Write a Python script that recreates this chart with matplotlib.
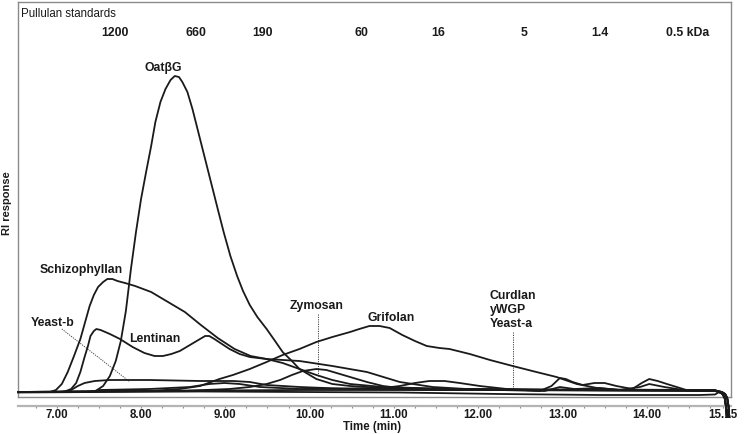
import numpy as np
import matplotlib
matplotlib.use("Agg")
import matplotlib.pyplot as plt
import matplotlib.transforms as mtransforms

# =========================
# DATA  (time in min, RI response in arbitrary units)
# =========================
oat_bg = [(6.54, 0), (7.33, 0), (7.46, 1), (7.55, 6), (7.63, 16), (7.70, 31), (7.76, 51),
          (7.82, 81), (7.88, 123), (7.94, 160), (8.00, 193), (8.06, 220), (8.12, 246),
          (8.17, 270), (8.23, 290), (8.29, 303), (8.35, 312), (8.40, 316), (8.45, 315),
          (8.49, 310), (8.55, 300), (8.61, 283), (8.67, 263), (8.73, 243), (8.79, 223),
          (8.85, 203), (8.91, 183), (8.98, 160), (9.06, 136), (9.14, 116), (9.21, 101),
          (9.29, 87), (9.38, 75), (9.49, 63), (9.59, 51), (9.68, 40), (9.79, 31), (9.88, 23),
          (10.08, 13), (10.27, 8), (10.48, 6), (11.07, 3), (12.26, 2), (13.44, 1.5), (14.81, 1)]

schizophyllan = [(6.54, 0), (6.92, 0), (6.99, 2), (7.06, 8), (7.13, 20), (7.20, 35), (7.28, 53),
                 (7.34, 71), (7.39, 86), (7.44, 97), (7.49, 105), (7.55, 110), (7.60, 113),
                 (7.66, 113), (7.72, 111), (7.81, 109), (7.93, 106), (8.12, 100), (8.32, 90),
                 (8.52, 80), (8.71, 67), (8.91, 54), (9.11, 43), (9.30, 36), (9.49, 33),
                 (9.68, 29), (9.88, 23), (10.08, 17), (10.27, 12), (10.48, 8), (10.87, 5),
                 (11.66, 3), (12.85, 2), (14.81, 1.5)]

lentinan = [(6.54, 0), (7.04, 0), (7.11, 1), (7.17, 3), (7.23, 9), (7.28, 20), (7.33, 35),
            (7.37, 46), (7.40, 56), (7.44, 61), (7.47, 63), (7.52, 62), (7.63, 58), (7.75, 53),
            (7.90, 45), (8.04, 39), (8.16, 36), (8.26, 36), (8.36, 38), (8.46, 41), (8.58, 47),
            (8.70, 53), (8.76, 56), (8.81, 56), (8.87, 53), (8.96, 48), (9.05, 43), (9.17, 38),
            (9.29, 35), (9.49, 33), (9.88, 31), (10.27, 26), (10.68, 20), (11.07, 10),
            (11.46, 5), (11.86, 3), (12.85, 2), (14.81, 1.5)]

grifolan = [(6.54, 0), (8.10, 1), (8.46, 3), (8.70, 6), (8.93, 13), (9.09, 17), (9.29, 23),
            (9.49, 30), (9.68, 37), (9.88, 43), (10.08, 50), (10.27, 55), (10.48, 60),
            (10.59, 63), (10.71, 66), (10.83, 66), (10.95, 64), (11.10, 57), (11.25, 51),
            (11.39, 46), (11.54, 44), (11.66, 43), (11.90, 38), (12.14, 32), (12.41, 26),
            (12.69, 20), (12.93, 15), (13.17, 8), (13.41, 4), (13.68, 2), (14.81, 1.5)]

zymosan = [(6.54, 0), (8.46, 1), (9.05, 3), (9.29, 5), (9.49, 8), (9.65, 12), (9.79, 17),
           (9.92, 21), (10.08, 23), (10.20, 22), (10.32, 19), (10.48, 15), (10.68, 10),
           (10.87, 6), (11.07, 4), (11.66, 3), (14.81, 2)]

yeast_b = [(6.54, 0), (7.09, 0), (7.17, 2), (7.25, 6), (7.33, 9), (7.45, 11), (7.63, 12),
           (8.10, 12), (8.70, 11), (9.09, 11), (9.29, 10), (9.49, 7), (9.88, 5), (10.48, 3),
           (11.66, 2), (14.81, 1.5)]

curdlan = [(6.54, 0), (7.39, 0), (7.51, 2), (8.10, 3), (8.58, 5), (8.81, 8), (8.99, 9),
           (9.17, 8), (9.41, 5), (9.88, 3), (10.87, 4), (11.07, 6), (11.25, 9), (11.42, 11),
           (11.60, 11), (11.78, 9), (12.02, 6), (12.34, 3), (12.73, 1), (12.87, 6), (12.97, 14),
           (13.04, 13), (13.12, 10), (13.24, 7), (13.38, 9), (13.50, 9), (13.64, 6), (13.83, 3),
           (13.94, 9), (14.03, 13), (14.13, 11), (14.24, 8), (14.47, 2), (14.81, 1)]

ywgp = [(6.54, 0), (7.75, 1), (9.88, 2), (12.26, 2), (12.79, 1), (12.97, 5), (13.14, 3),
        (13.44, 4), (13.68, 2), (13.92, 5), (14.03, 8), (14.21, 5), (14.47, 1.5), (14.81, 1)]

yeast_a = [(6.54, -0.5), (7.51, 0), (8.70, 0.5), (9.88, 0), (11.07, -0.5), (12.26, -2),
           (13.44, -3), (14.63, -3), (14.81, -2.5)]

# end of run: every trace falls off the bottom
tail_a = [(14.86, 0), (14.90, -2), (14.925, -6), (14.94, -14), (14.95, -25)]
tail_b = [(14.89, 0), (14.93, -2), (14.955, -6), (14.97, -14), (14.98, -25)]

# pullulan standards (kDa) and their elution times
std_labels = ["1200", "660", "190", "60", "16", "5", "1.4", "0.5 kDa"]
std_times = [7.69, 8.65, 9.44, 10.61, 11.52, 12.54, 13.44, 14.49]

tick_pos = [7, 8, 9, 10, 11, 12, 13, 14, 14.90]
tick_labels = ["7.00", "8.00", "9.00", "10.00", "11.00", "12.00", "13.00", "14.00", "15.15"]

# =========================
# FIGURE
# =========================
plt.rcParams["font.family"] = ["Liberation Sans", "DejaVu Sans"]
INK = "#1a1a1a"
FRAME = "#8a8a8a"

fig = plt.figure(figsize=(7.49, 4.35), dpi=100)
ax = fig.add_axes([18 / 749, 1 - 398 / 435, (731 - 18) / 749, 395 / 435])
ax.set_xlim(6.54, 15.0)
ax.set_ylim(-5, 390)

traces = [oat_bg, schizophyllan, lentinan, grifolan, zymosan, yeast_b, curdlan, ywgp, yeast_a]
for i, tr in enumerate(traces):
    pts = tr + (tail_a if i % 2 == 0 else tail_b)
    t = [p[0] for p in pts]
    v = [p[1] for p in pts]
    ax.plot(t, v, color=INK, lw=1.3, solid_joinstyle="round", clip_on=False, zorder=3)

# frame
for s in ["left", "top", "right"]:
    ax.spines[s].set_color(FRAME)
    ax.spines[s].set_linewidth(1.0)
ax.plot([0, 1], [0, 0], transform=ax.transAxes, color=FRAME, lw=1.0, clip_on=False, zorder=2)
ax.spines["bottom"].set_position(("outward", 6.5))
ax.spines["bottom"].set_color("#b4b4b4")
ax.spines["bottom"].set_linewidth(1.6)

ax.set_yticks([])
ax.set_xticks(tick_pos)
ax.set_xticklabels(tick_labels, fontsize=8.3, fontweight="bold", color=INK)
ax.set_xticks(np.arange(6.75, 14.9, 0.25), minor=True)
ax.tick_params(axis="x", which="both", direction="out", length=1.5, width=0.8,
               color="#8a8a8a", pad=0)

fig.text(372 / 749, 1 - 427 / 435, "Time (min)", ha="center", va="center",
         fontsize=8.3, fontweight="bold", color=INK)
fig.text(7 / 749, 1 - 203 / 435, "RI response", rotation=90, ha="center", va="center",
         fontsize=8, fontweight="bold", color=INK)
fig.text(21 / 749, 1 - 14 / 435, "Pullulan standards", ha="left", va="center",
         fontsize=8.3, color=INK)

trans = mtransforms.blended_transform_factory(ax.transData, ax.transAxes)
for lab, tm in zip(std_labels, std_times):
    ax.text(tm, 0.924, lab, transform=trans, ha="center", va="center",
            fontsize=8.8, fontweight="bold", color=INK)

# peak labels
lab_kw = dict(fontsize=8.8, fontweight="bold", color=INK, va="center")
ax.text(8.26, 325, "OatβG", ha="center", **lab_kw)
ax.text(7.29, 123, "Schizophyllan", ha="center", **lab_kw)
ax.text(6.95, 70, "Yeast-b", ha="center", **lab_kw)
ax.text(8.16, 54, "Lentinan", ha="center", **lab_kw)
ax.text(10.08, 87, "Zymosan", ha="center", **lab_kw)
ax.text(10.97, 75, "Grifolan", ha="center", **lab_kw)
ax.text(12.14, 83, "Curdlan\nyWGP\nYeast-a", ha="left", linespacing=1.25, **lab_kw)

# dotted leaders
lead_kw = dict(color="#444444", lw=0.7, ls=(0, (1.2, 1.2)), zorder=2)
ax.plot([7.06, 7.87], [63, 10], **lead_kw)
ax.plot([10.10, 10.10], [78, 15], **lead_kw)
ax.plot([12.41, 12.41], [60, 3], **lead_kw)

fig.savefig("out.png", dpi=100)
